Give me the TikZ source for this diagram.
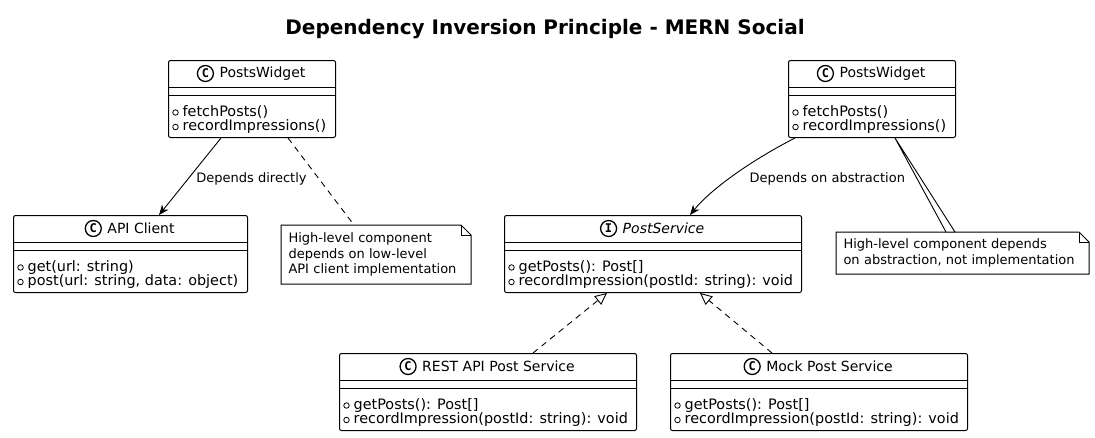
\documentclass[tikz,border=0pt]{standalone}
\usepackage{fontspec}
\setmainfont{DejaVu Sans}
\newfontfamily\iconfont{DejaVu Sans Mono}
\usetikzlibrary{positioning, arrows.meta}

\tikzset{
  classbox/.style={draw, fill=white, rounded corners=2pt, line width=1pt,
    minimum height=77pt, anchor=north west, inner sep=0pt},
  classicon/.style={draw, circle, line width=1.3pt, minimum size=16pt, inner sep=0pt,
    font=\iconfont\bfseries\fontsize{12}{12}\selectfont},
  classtitle/.style={font=\fontsize{14}{16}\selectfont, inner sep=0pt},
  member/.style={font=\fontsize{14.4}{16}\selectfont, inner sep=0pt,
    text height=10pt, text depth=3pt},
  pubmark/.style={draw, circle, line width=0.8pt, minimum size=5.5pt, inner sep=0pt},
  notebox/.style={anchor=north west, align=left, inner xsep=7pt, inner ysep=0pt,
    font=\fontsize{13}{15.5}\selectfont},
  notelink/.style={line width=0.9pt, dash pattern=on 6pt off 5pt},
  edgelabel/.style={font=\fontsize{13}{15}\selectfont, anchor=west, inner sep=0pt},
  depends/.style={-{Stealth[length=10pt, width=8pt, inset=3pt]}, line width=0.9pt},
  realizes/.style={-{Triangle[open, length=12pt, width=11pt]}, line width=0.9pt,
    dash pattern=on 6pt off 5pt},
}

\begin{document}
\begin{tikzpicture}[x=1pt, y=-1pt, line width=1pt]
  \useasboundingbox (0,0) rectangle (1095,437);
  \node[font=\bfseries\fontsize{20}{24}\selectfont] (title) at (545,29)
    {Dependency Inversion Principle - MERN Social};

  % class boxes: name/left/top/width/icon/title/members
  \foreach \nm/\x/\y/\w/\ic/\ttl/\ma/\mb in {
      pwa/168/60/167/C/PostsWidget/fetchPosts()/recordImpressions(),
      api/13/215/234/C/API Client/get(url: string)/{post(url: string, data: object)},
      pwb/788/60/167/C/PostsWidget/fetchPosts()/recordImpressions(),
      ps/504/215/297/I/\itshape PostService/getPosts(): Post[]/recordImpression(postId: string): void,
      rest/339/353/297/C/REST API Post Service/getPosts(): Post[]/recordImpression(postId: string): void,
      mock/670/353/297/C/Mock Post Service/getPosts(): Post[]/recordImpression(postId: string): void}{
    \node[classbox, minimum width=\w pt] (\nm) at (\x,\y) {};
    \draw ([yshift=-27pt]\nm.north west) -- ([yshift=-27pt]\nm.north east);
    \draw ([yshift=-35.5pt]\nm.north west) -- ([yshift=-35.5pt]\nm.north east);
    \node[classtitle] (\nm-name) at ([xshift=10.5pt, yshift=-13.5pt]\nm.north) {\ttl};
    \node[classicon, left=5pt of \nm-name] (\nm-icon) {\ic};
    \node[pubmark] (\nm-pa) at ([xshift=7.5pt, yshift=-52.5pt]\nm.north west) {};
    \node[pubmark] (\nm-pb) at ([xshift=7.5pt, yshift=-67pt]\nm.north west) {};
    \node[member, right=3.5pt of \nm-pa] (\nm-ma) {\ma};
    \node[member, right=3.5pt of \nm-pb] (\nm-mb) {\mb};
  }

  % notes
  \node[notebox, minimum width=189pt, minimum height=58pt, text width=175pt] (na) at (281,225)
    {High-level component\\depends on low-level\\API client implementation};
  \node[notebox, minimum width=252pt, minimum height=41pt, text width=238pt] (nb) at (836,232)
    {High-level component depends\\on abstraction, not implementation};
  \foreach \n in {na, nb}{
    \draw (\n.north west) -- ([xshift=-10pt]\n.north east) -- ([yshift=-10pt]\n.north east)
      -- (\n.south east) -- (\n.south west) -- cycle;
    \draw ([xshift=-10pt]\n.north east) |- ([yshift=-10pt]\n.north east);
  }

  % connectors
  \draw[depends] ([xshift=53pt]pwa.south west) -- ([xshift=146pt]api.north west)
    node[edgelabel, pos=0.5, xshift=6pt, yshift=-2pt] {Depends directly};
  \draw[notelink] ([xshift=120pt]pwa.south west) -- ([xshift=73pt]na.north west);
  \draw[depends] ([xshift=7pt]pwb.south west) .. controls +(-45,23) and +(20,-25)
    .. ([xshift=186pt]ps.north west)
    node[edgelabel, pos=0.5, xshift=16pt, yshift=-3pt] {Depends on abstraction};
  \draw[line width=0.9pt, fill=white] ([xshift=107pt]pwb.south west)
    -- ([xshift=110pt]nb.north west) -- ([xshift=119pt]nb.north west) -- cycle;
  \draw[realizes] ([xshift=194pt]rest.north west) -- ([xshift=103pt]ps.south west);
  \draw[realizes] ([xshift=102pt]mock.north west) -- ([xshift=196pt]ps.south west);
\end{tikzpicture}
\end{document}
